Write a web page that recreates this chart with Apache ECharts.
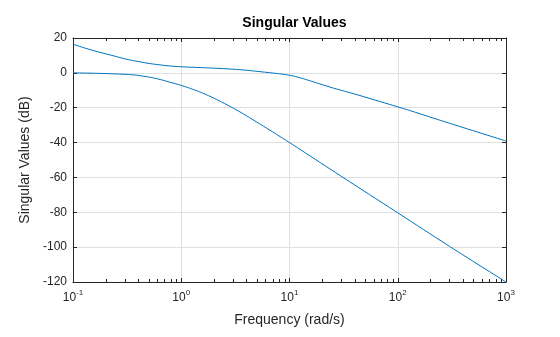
<!DOCTYPE html>
<html>
<head>
<meta charset="utf-8">
<script src="https://cdn.jsdelivr.net/npm/echarts@6/dist/echarts.min.js"></script>
<style>html,body{margin:0;padding:0;background:#fff}#c{width:560px;height:337px}</style>
</head>
<body>
<div id="c"></div>
<script>
// ---- data ----
const upperFreq = [0.1, 0.15, 0.229, 0.3, 0.4, 0.517, 0.65, 0.8, 1, 1.4, 2, 3, 4, 5.5, 7, 8.5, 10, 12, 15, 19, 25, 30, 43, 68, 100, 129, 300, 1000];
const upperDb   = [16.4, 13.0, 10.0, 8.1, 6.5, 5.3, 4.5, 3.9, 3.5, 3.1, 2.7, 2.1, 1.5, 0.6, -0.1, -0.7, -1.4, -2.5, -4.3, -6.3, -8.6, -10.0, -12.7, -16.4, -19.5, -21.6, -28.9, -39.1];
const lowerFreq = [0.1, 0.15, 0.2, 0.27, 0.35, 0.45, 0.6, 0.79, 1, 1.3, 1.6, 2, 2.5, 3.2, 4, 5, 6.6, 8, 10, 12.5, 30, 100, 300, 1000];
const lowerDb   = [0, -0.2, -0.4, -0.7, -1.1, -1.9, -3.4, -5.4, -7.2, -9.6, -11.8, -14.5, -17.5, -21.1, -24.6, -28.3, -32.9, -36.2, -40, -43.9, -59.3, -80.3, -99.5, -120];
const xTickExponents = [-1, 0, 1, 2, 3];
const yTicks = [-120, -100, -80, -60, -40, -20, 0, 20];
const minorTickFreqs = [];
for (const e of [-1, 0, 1, 2]) for (const m of [2,3,4,5,6,7,8,9]) minorTickFreqs.push(+(m * Math.pow(10, e)).toPrecision(3));

const TXT = '#262626';
const FONT = '"Liberation Sans", Arial, Helvetica, sans-serif';
const LINE = '#0072BD';
const xMin = Math.pow(10, xTickExponents[0]), xMax = Math.pow(10, xTickExponents[xTickExponents.length-1]);
const yMin = yTicks[0], yMax = yTicks[yTicks.length-1];

const chart = echarts.init(document.getElementById('c'), null, {renderer: 'canvas'});
const zip = (a, b) => a.map((v, i) => [v, b[i]]);

const baseX = {
  type: 'log', logBase: 10, min: xMin, max: xMax,
  axisLine: {show: true, onZero: false, lineStyle: {color: TXT, width: 1}},
  axisTick: {show: true, inside: true, length: 4, lineStyle: {color: TXT}},
  splitLine: {show: false}
};
const baseY = {
  type: 'value', min: yMin, max: yMax, interval: 20,
  axisLine: {show: true, onZero: false, lineStyle: {color: TXT, width: 1}},
  axisTick: {show: true, inside: true, length: 4, lineStyle: {color: TXT}},
  splitLine: {show: false}
};

chart.setOption({
  animation: false,
  backgroundColor: '#fff',
  title: {
    text: 'Singular Values', left: 289.5, textAlign: 'center', top: 11,
    textStyle: {fontFamily: FONT, fontSize: 14, fontWeight: 'bold', color: '#000'}
  },
  grid: {left: 73, right: 54, top: 38, bottom: 55, containLabel: false},
  xAxis: [
    Object.assign({}, baseX, {
      position: 'bottom',
      splitLine: {show: true, lineStyle: {color: '#dfdfdf', width: 1}},
      name: 'Frequency (rad/s)', nameLocation: 'middle', nameGap: 31,
      nameTextStyle: {fontFamily: FONT, fontSize: 14, color: TXT},
      axisLabel: {
        margin: 7,
        formatter: function (v) {
          const e = Math.round(Math.log10(v));
          return xTickExponents.indexOf(e) >= 0 ? '{b|10}{s|' + e + '}' : '';
        },
        rich: {
          b: {fontFamily: FONT, fontSize: 12, color: TXT, verticalAlign: 'bottom'},
          s: {fontFamily: FONT, fontSize: 8, color: TXT, verticalAlign: 'bottom', padding: [0, 0, 7, 0]}
        }
      }
    }),
    Object.assign({}, baseX, {position: 'top', axisLabel: {show: false}})
  ],
  yAxis: [
    Object.assign({}, baseY, {
      position: 'left',
      splitLine: {show: true, lineStyle: {color: '#dfdfdf', width: 1}},
      name: 'Singular Values (dB)', nameLocation: 'middle', nameGap: 36,
      nameTextStyle: {fontFamily: FONT, fontSize: 14, color: TXT},
      axisLabel: {margin: 6, fontFamily: FONT, fontSize: 12, color: TXT}
    }),
    Object.assign({}, baseY, {position: 'right', axisLabel: {show: false}})
  ],
  series: [
    {
      type: 'line', name: 'upper', data: zip(upperFreq, upperDb), smooth: 0.4,
      showSymbol: false, symbol: 'none', lineStyle: {color: LINE, width: 1}, z: 3
    },
    {
      type: 'line', name: 'lower', data: zip(lowerFreq, lowerDb), smooth: 0.4,
      showSymbol: false, symbol: 'none', lineStyle: {color: LINE, width: 1}, z: 3
    },
    {
      type: 'custom', name: 'minorTicks', silent: true, z: 4, clip: false,
      data: minorTickFreqs.map(f => [f]),
      renderItem: function (params, api) {
        const f = api.value(0);
        const b = api.coord([f, yMin]);
        const t = api.coord([f, yMax]);
        const st = {stroke: TXT, lineWidth: 1};
        const x = Math.round(b[0]) + 0.5;
        return {
          type: 'group',
          children: [
            {type: 'line', shape: {x1: x, y1: b[1], x2: x, y2: b[1] - 3}, style: st},
            {type: 'line', shape: {x1: x, y1: t[1], x2: x, y2: t[1] + 3}, style: st}
          ]
        };
      }
    }
  ]
});
</script>
</body>
</html>
